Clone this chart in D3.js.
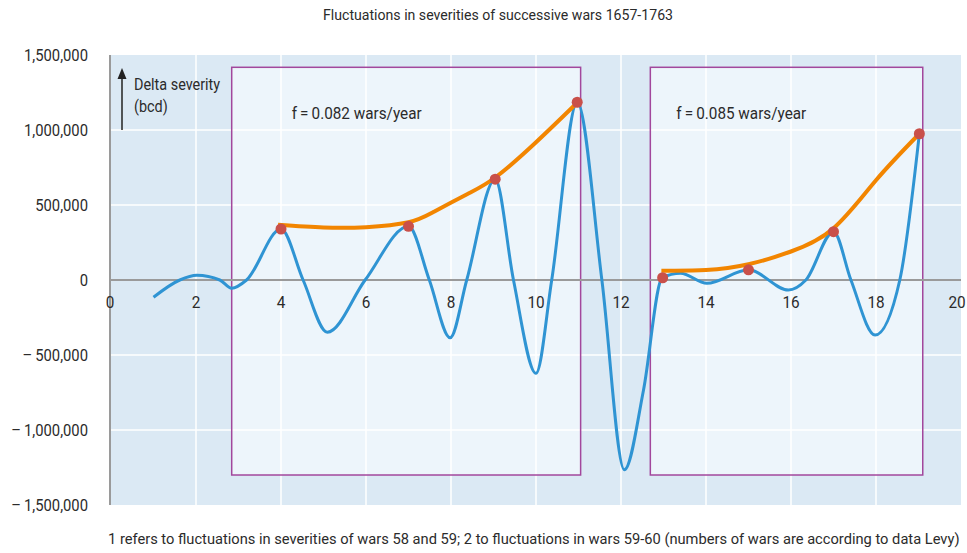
<!DOCTYPE html>
<html lang="en">
<head>
<meta charset="UTF-8">
<title>Fluctuations in severities of successive wars 1657-1763</title>
<script src="https://d3js.org/d3.v7.min.js"></script>
<style>
    body { margin: 0; background: #fff; }
    text { font-family: "Roboto", "Noto Sans", sans-serif; fill: #2b2b2b; }
</style>
</head>
<body>
<div id="chart"></div>
<script>
    // fluctuation curve (blue)
    const waveX = [1.0, 1.62, 2.02, 2.56, 2.84, 3.19, 4.0, 4.52, 5.09, 5.98, 7.0, 7.49, 7.98, 8.37, 9.04, 9.47, 10.0, 10.37, 10.97, 11.55, 12.08, 12.53, 12.97, 13.4, 14.02, 15.0, 15.94, 16.35, 17.0, 17.41, 17.98, 18.56, 19.02];
    const waveY = [-115000, 0, 31000, 0, -55000, 0, 340000, 0, -348000, 0, 358000, 0, -385000, 0, 672000, 0, -622000, 0, 1185000, 0, -1265000, -733000, 15000, 45000, -22000, 68000, -67000, 0, 322000, 0, -367000, 0, 975000];

    // peaks (red dots)
    const peakX = [4.0, 7.0, 9.04, 10.97, 12.98, 15.0, 17.0, 19.02];
    const peakY = [340000, 358000, 672000, 1185000, 15000, 68000, 322000, 975000];

    // envelopes (orange)
    const env1X = [3.93, 5.0, 6.0, 7.0, 7.6, 8.4, 9.05, 9.95, 10.98];
    const env1Y = [368000, 350000, 352000, 385000, 455000, 575000, 685000, 905000, 1185000];
    const env2X = [12.95, 14.0, 15.0, 16.0, 17.0, 18.0, 19.02];
    const env2Y = [62000, 66000, 105000, 190000, 345000, 665000, 975000];

    // framed periods
    const boxStart = [2.84, 12.69];
    const boxEnd = [11.05, 19.1];
    const boxTop = 1418000, boxBottom = -1300000;
    const boxLabels = ["f\u2009=\u20090.082 wars/year", "f\u2009=\u20090.085 wars/year"];
    const labelAt = [4.25, 13.3];

    const xTicks = d3.range(0, 21, 2);
    const yTicks = [-1500000, -1000000, -500000, 0, 500000, 1000000, 1500000];

    const width = 967, height = 553;
    const svg = d3.select("#chart").append("svg")
        .attr("width", width)
        .attr("height", height);

    const x = d3.scaleLinear().domain([0, 20]).range([111, 961]);
    const y = d3.scaleLinear().domain([-1500000, 1500000]).range([505, 55]);

    // the reference uses a condensed face, squeeze the glyphs a little
    function condense(sel, k) {
        sel.each(function () {
            const w = this.getComputedTextLength();
            d3.select(this).attr("textLength", w * k).attr("lengthAdjust", "spacingAndGlyphs");
        });
    }

    svg.append("text")
        .attr("x", 498).attr("y", 20)
        .attr("text-anchor", "middle")
        .attr("font-size", 15)
        .attr("textLength", 350).attr("lengthAdjust", "spacingAndGlyphs")
        .text("Fluctuations in severities of successive wars 1657-1763");

    // plot background
    svg.append("rect")
        .attr("x", 110).attr("y", y(1500000))
        .attr("width", x(20) - 110).attr("height", y(-1500000) - y(1500000))
        .attr("fill", "#dbe9f4");

    boxStart.forEach((b, i) => {
        svg.append("rect")
            .attr("x", x(b)).attr("y", y(boxTop))
            .attr("width", x(boxEnd[i]) - x(b)).attr("height", y(boxBottom) - y(boxTop))
            .attr("fill", "#edf5fb");
    });

    // grid
    svg.append("g").selectAll("line.v")
        .data(xTicks.filter(d => d > 0 && d < 20))
        .enter().append("line")
        .attr("x1", d => x(d)).attr("x2", d => x(d))
        .attr("y1", y(1500000)).attr("y2", y(-1500000))
        .attr("stroke", "#fff").attr("stroke-width", 1.5);

    svg.append("g").selectAll("line.h")
        .data(yTicks.filter(d => d !== 0 && d !== 1500000 && d !== -1500000))
        .enter().append("line")
        .attr("x1", 110).attr("x2", x(20))
        .attr("y1", d => y(d)).attr("y2", d => y(d))
        .attr("stroke", "#fff").attr("stroke-width", 1.5);

    // box frames
    boxStart.forEach((b, i) => {
        svg.append("rect")
            .attr("x", x(b)).attr("y", y(boxTop))
            .attr("width", x(boxEnd[i]) - x(b)).attr("height", y(boxBottom) - y(boxTop))
            .attr("fill", "none")
            .attr("stroke", "#a2479c").attr("stroke-width", 1.5);
        svg.append("text")
            .attr("x", x(labelAt[i])).attr("y", 119)
            .attr("font-size", 17)
            .attr("textLength", 130).attr("lengthAdjust", "spacingAndGlyphs")
            .text(boxLabels[i]);
    });

    // axes
    svg.append("line")
        .attr("x1", 110).attr("x2", x(20))
        .attr("y1", y(0)).attr("y2", y(0))
        .attr("stroke", "#9a9a9a").attr("stroke-width", 2);
    svg.append("line")
        .attr("x1", 110).attr("x2", 110)
        .attr("y1", y(1500000)).attr("y2", y(-1500000))
        .attr("stroke", "#9a9a9a").attr("stroke-width", 2);

    const fmt = d3.format(",");
    svg.append("g").selectAll("text")
        .data(yTicks)
        .enter().append("text")
        .attr("x", 88).attr("y", d => y(d) + 6)
        .attr("text-anchor", "end")
        .attr("font-size", 17)
        .text(d => d < 0 ? "\u2013\u2009" + fmt(-d) : fmt(d))
        .call(condense, 0.87);

    svg.append("g").selectAll("text")
        .data(xTicks)
        .enter().append("text")
        .attr("x", d => d === 20 ? 957 : x(d) - (d === 0 ? 1 : 0)).attr("y", y(0) + 28)
        .attr("text-anchor", "middle")
        .attr("font-size", 17)
        .text(d => d)
        .call(condense, 0.9);

    // y label with arrow
    svg.append("line")
        .attr("x1", 122).attr("x2", 122)
        .attr("y1", 130).attr("y2", 76)
        .attr("stroke", "#222").attr("stroke-width", 1.5);
    svg.append("path")
        .attr("d", "M117.5,79 L122,68 L126.5,79 Z")
        .attr("fill", "#222");
    svg.append("text").attr("x", 134).attr("y", 90).attr("font-size", 16).text("Delta severity").call(condense, 0.9);
    svg.append("text").attr("x", 134).attr("y", 112).attr("font-size", 16).text("(bcd)").call(condense, 0.9);

    // wave
    const wave = waveX.map((d, i) => [d, waveY[i]]);
    svg.append("path")
        .datum(wave)
        .attr("fill", "none")
        .attr("stroke", "#2f94d3")
        .attr("stroke-width", 3)
        .attr("d", d3.line().x(d => x(d[0])).y(d => y(d[1])).curve(d3.curveMonotoneX));

    // envelopes
    [[env1X, env1Y], [env2X, env2Y]].forEach(([ex, ey]) => {
        svg.append("path")
            .datum(ex.map((d, i) => [d, ey[i]]))
            .attr("fill", "none")
            .attr("stroke", "#f28500")
            .attr("stroke-width", 4)
            .attr("d", d3.line().x(d => x(d[0])).y(d => y(d[1])).curve(d3.curveNatural));
    });

    svg.append("g").selectAll("circle")
        .data(peakX)
        .enter().append("circle")
        .attr("cx", d => x(d))
        .attr("cy", (d, i) => y(peakY[i]))
        .attr("r", 5.5)
        .attr("fill", "#c9504a");

    // caption, squeezed with a transform so its box stays inside the page
    const caption = svg.append("text")
        .attr("font-size", 15)
        .text("1 refers to fluctuations in severities of wars 58 and 59; 2 to fluctuations in wars 59-60 (numbers of wars are according to data Levy)");
    const capW = caption.node().getComputedTextLength();
    caption.attr("transform", `translate(108,544) scale(${852 / capW},1)`);
</script>
</body>
</html>
